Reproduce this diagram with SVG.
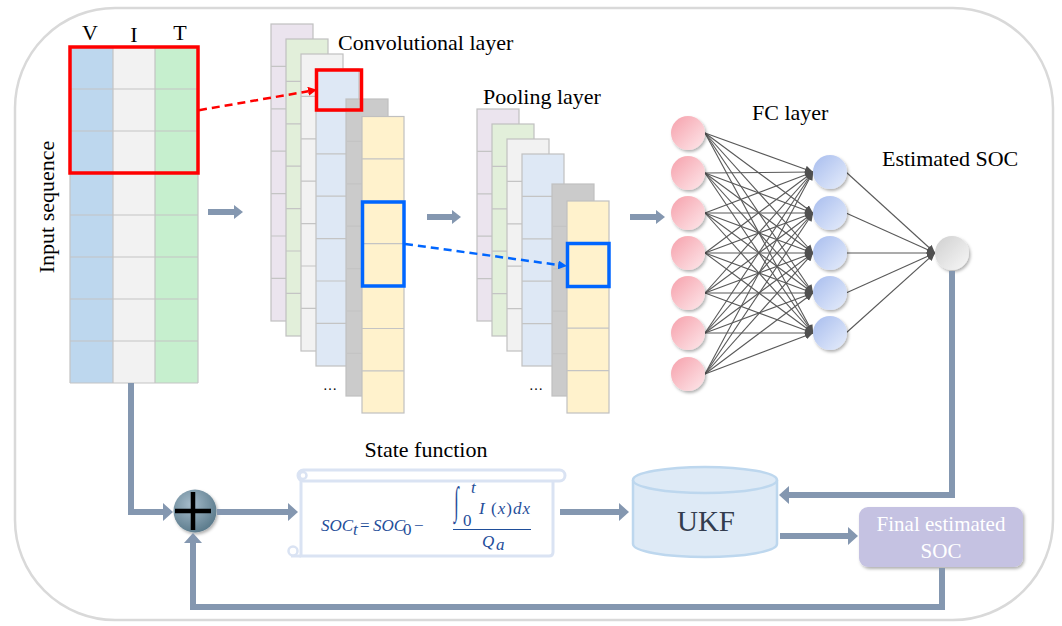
<svg xmlns="http://www.w3.org/2000/svg" width="1062" height="626" viewBox="0 0 1062 626">
<style>
.lbl{font-family:"Liberation Serif","Times New Roman","DejaVu Serif",serif;font-size:22px;fill:#000}
.grid{stroke:#c4c4c4;stroke-width:1.2;fill:none}
.sheet{stroke:#c0c0c0;stroke-width:1.2}
.conn{fill:none;stroke:#8497b0;stroke-width:6}
.fc{stroke:#595959;stroke-width:1.1;fill:none}
.math{font-family:"Liberation Serif","Times New Roman","DejaVu Serif",serif;fill:#1f4e9a;font-style:italic;font-size:17px}
.up{font-style:normal}
.sf{font-family:"Liberation Serif","Times New Roman","DejaVu Serif",serif}
</style>
<defs>
<marker id="ah" viewBox="0 0 10 18" refX="0" refY="9" markerWidth="10" markerHeight="18" markerUnits="userSpaceOnUse" orient="auto"><path d="M0,0 L10,9 L0,18 z" fill="#8497b0"/></marker>
<marker id="ahs" viewBox="0 0 9 14" refX="0" refY="7" markerWidth="9" markerHeight="14" markerUnits="userSpaceOnUse" orient="auto"><path d="M0,0 L9,7 L0,14 z" fill="#8497b0"/></marker>
<marker id="ar" viewBox="0 0 9 9" refX="0" refY="4.5" markerWidth="9" markerHeight="9" markerUnits="userSpaceOnUse" orient="auto"><path d="M0,0 L9,4.5 L0,9 z" fill="#ff0000"/></marker>
<marker id="ab" viewBox="0 0 9 9" refX="0" refY="4.5" markerWidth="9" markerHeight="9" markerUnits="userSpaceOnUse" orient="auto"><path d="M0,0 L9,4.5 L0,9 z" fill="#0066ff"/></marker>
<marker id="af" viewBox="0 0 8 8" refX="8" refY="4" markerWidth="8" markerHeight="8" markerUnits="userSpaceOnUse" orient="auto"><path d="M0,0.3 L8,4 L0,7.7 z" fill="#505050"/></marker>
<linearGradient id="gPink" x1="0" y1="0" x2="1" y2="1"><stop offset="0" stop-color="#f6a0ab"/><stop offset="1" stop-color="#fde8eb"/></linearGradient>
<linearGradient id="gBlue" x1="0" y1="0" x2="1" y2="1"><stop offset="0" stop-color="#a8bdee"/><stop offset="1" stop-color="#e6edfb"/></linearGradient>
<linearGradient id="gGray" x1="0" y1="0" x2="1" y2="1"><stop offset="0" stop-color="#cfcfcf"/><stop offset="1" stop-color="#f8f8f8"/></linearGradient>
<radialGradient id="gSum" cx="0.4" cy="0.35" r="0.7"><stop offset="0" stop-color="#a6bccb"/><stop offset="1" stop-color="#587889"/></radialGradient>
<filter id="sh" x="-30%" y="-30%" width="160%" height="160%"><feDropShadow dx="1.5" dy="2" stdDeviation="1.5" flood-color="#000" flood-opacity="0.3"/></filter>
</defs>

<rect x="15" y="8" width="1038" height="612" rx="100" ry="100" fill="#fff" stroke="#d9d9d9" stroke-width="2.5"/>

<g id="input-sequence">
<rect x="70" y="47" width="43" height="336" fill="#bdd7ee"/>
<rect x="113" y="47" width="42" height="336" fill="#f2f2f2"/>
<rect x="155" y="47" width="43" height="336" fill="#c6efce"/>
<path class="grid" d="M70,47V383M113,47V383M155,47V383M198,47V383M70,89H198M70,131H198M70,173H198M70,215H198M70,257H198M70,299H198M70,341H198M70,383H198"/>
<rect x="70" y="47" width="128" height="126" fill="none" stroke="#ff0000" stroke-width="3.5"/>
<text class="lbl" x="90" y="40" text-anchor="middle">V</text>
<text class="lbl" x="134" y="42" text-anchor="middle">I</text>
<text class="lbl" x="180" y="40" text-anchor="middle">T</text>
<text class="lbl" transform="translate(54,207) rotate(-90)" text-anchor="middle">Input sequence</text>
</g>

<g id="conv-layer">
<rect class="sheet" x="271" y="24" width="42" height="297" fill="#ebe4ee"/>
<path class="grid" d="M271,66.4H313M271,108.8H313M271,151.2H313M271,193.6H313M271,236H313M271,278.4H313"/>
<rect class="sheet" x="286" y="39" width="42" height="297" fill="#e2efda"/>
<path class="grid" d="M286,81.4H328M286,123.8H328M286,166.2H328M286,208.6H328M286,251H328M286,293.4H328"/>
<rect class="sheet" x="301" y="54" width="42" height="297" fill="#f2f2f2"/>
<path class="grid" d="M301,96.4H343M301,138.8H343M301,181.2H343M301,223.6H343M301,266H343M301,308.4H343"/>
<rect class="sheet" x="316" y="69" width="43" height="297" fill="#dee8f5"/>
<path class="grid" d="M316,111.4H359M316,153.8H359M316,196.2H359M316,238.6H359M316,281H359M316,323.4H359"/>
<rect class="sheet" x="346" y="99" width="42" height="297" fill="#cbcbcb"/>
<path class="grid" d="M346,141.4H388M346,183.8H388M346,226.2H388M346,268.6H388M346,311H388M346,353.4H388"/>
<rect class="sheet" x="362" y="116.5" width="42" height="296.5" fill="#fff2cc"/>
<path class="grid" d="M362,158.9H404M362,201.3H404M362,243.7H404M362,286.1H404M362,328.5H404M362,370.9H404"/>
<rect x="316.5" y="70" width="45" height="40" fill="none" stroke="#ff0000" stroke-width="3.5"/>
<rect x="362.5" y="202" width="41.5" height="84" fill="none" stroke="#0066ff" stroke-width="3.5"/>
<text class="sf" x="330" y="390" font-size="14" text-anchor="middle">…</text>
<text class="lbl" x="338" y="50">Convolutional layer</text>
</g>

<g id="pooling-layer">
<rect class="sheet" x="477" y="109" width="42" height="212" fill="#ebe4ee"/>
<path class="grid" d="M477,151.4H519M477,193.8H519M477,236.2H519M477,278.6H519"/>
<rect class="sheet" x="492" y="124" width="42" height="212" fill="#e2efda"/>
<path class="grid" d="M492,166.4H534M492,208.8H534M492,251.2H534M492,293.6H534"/>
<rect class="sheet" x="507" y="139" width="42" height="212" fill="#f2f2f2"/>
<path class="grid" d="M507,181.4H549M507,223.8H549M507,266.2H549M507,308.6H549"/>
<rect class="sheet" x="522" y="154" width="42" height="212" fill="#dee8f5"/>
<path class="grid" d="M522,196.4H564M522,238.8H564M522,281.2H564M522,323.6H564"/>
<rect class="sheet" x="552" y="184" width="42" height="212" fill="#cbcbcb"/>
<path class="grid" d="M552,226.4H594M552,268.8H594M552,311.2H594M552,353.6H594"/>
<rect class="sheet" x="567" y="201" width="42" height="212" fill="#fff2cc"/>
<path class="grid" d="M567,243.4H609M567,285.8H609M567,328.2H609M567,370.6H609"/>
<rect x="567.5" y="243.5" width="41.5" height="43" fill="none" stroke="#0066ff" stroke-width="3.5"/>
<text class="sf" x="536" y="390" font-size="14" text-anchor="middle">…</text>
<text class="lbl" x="483" y="104">Pooling layer</text>
</g>

<g id="fc-layer">
<g class="fc" marker-end="url(#af)">
<line x1="705" y1="133" x2="813" y2="172"/><line x1="705" y1="133" x2="813" y2="213"/><line x1="705" y1="133" x2="813" y2="253"/><line x1="705" y1="133" x2="813" y2="293"/><line x1="705" y1="133" x2="813" y2="333"/>
<line x1="705" y1="173" x2="813" y2="172"/><line x1="705" y1="173" x2="813" y2="213"/><line x1="705" y1="173" x2="813" y2="253"/><line x1="705" y1="173" x2="813" y2="293"/><line x1="705" y1="173" x2="813" y2="333"/>
<line x1="705" y1="213" x2="813" y2="172"/><line x1="705" y1="213" x2="813" y2="213"/><line x1="705" y1="213" x2="813" y2="253"/><line x1="705" y1="213" x2="813" y2="293"/><line x1="705" y1="213" x2="813" y2="333"/>
<line x1="705" y1="253" x2="813" y2="172"/><line x1="705" y1="253" x2="813" y2="213"/><line x1="705" y1="253" x2="813" y2="253"/><line x1="705" y1="253" x2="813" y2="293"/><line x1="705" y1="253" x2="813" y2="333"/>
<line x1="705" y1="293" x2="813" y2="172"/><line x1="705" y1="293" x2="813" y2="213"/><line x1="705" y1="293" x2="813" y2="253"/><line x1="705" y1="293" x2="813" y2="293"/><line x1="705" y1="293" x2="813" y2="333"/>
<line x1="705" y1="333" x2="813" y2="172"/><line x1="705" y1="333" x2="813" y2="213"/><line x1="705" y1="333" x2="813" y2="253"/><line x1="705" y1="333" x2="813" y2="293"/><line x1="705" y1="333" x2="813" y2="333"/>
<line x1="705" y1="374" x2="813" y2="172"/><line x1="705" y1="374" x2="813" y2="213"/><line x1="705" y1="374" x2="813" y2="253"/><line x1="705" y1="374" x2="813" y2="293"/><line x1="705" y1="374" x2="813" y2="333"/>
<line x1="846" y1="172" x2="935" y2="253"/><line x1="846" y1="213" x2="935" y2="253"/><line x1="846" y1="253" x2="935" y2="253"/><line x1="846" y1="293" x2="935" y2="253"/><line x1="846" y1="333" x2="935" y2="253"/>
</g>
<g fill="url(#gPink)" filter="url(#sh)">
<circle cx="688" cy="133" r="17"/><circle cx="688" cy="173" r="17"/><circle cx="688" cy="213" r="17"/><circle cx="688" cy="253" r="17"/><circle cx="688" cy="293" r="17"/><circle cx="688" cy="333" r="17"/><circle cx="688" cy="374" r="17"/>
</g>
<g fill="url(#gBlue)" filter="url(#sh)">
<circle cx="830" cy="172" r="17"/><circle cx="830" cy="213" r="17"/><circle cx="830" cy="253" r="17"/><circle cx="830" cy="293" r="17"/><circle cx="830" cy="333" r="17"/>
</g>
<text class="lbl" x="752" y="120">FC layer</text>
</g>

<g id="estimated-soc">
<circle cx="952" cy="253" r="17" fill="url(#gGray)" filter="url(#sh)"/>
<text class="lbl" x="882" y="166">Estimated SOC</text>
</g>

<g id="sum">
<circle cx="195" cy="511" r="21.5" fill="url(#gSum)" filter="url(#sh)"/>
<path d="M175,511H211M193,492V530" stroke="#000" stroke-width="4.5" fill="none"/>
</g>

<g id="state-function">
<text class="lbl" x="426" y="457" text-anchor="middle">State function</text>
<path d="M301,478V556H549Q553,556 553,552V481" fill="#fff" stroke="#dae3f3" stroke-width="3"/>
<rect x="298" y="470" width="267" height="11" rx="5.5" fill="#fff" stroke="#dae3f3" stroke-width="3"/>
<circle cx="303" cy="475.5" r="3.5" fill="#fff" stroke="#dae3f3" stroke-width="2.5"/>
<path d="M291,556H301" stroke="#dae3f3" stroke-width="3"/>
<circle cx="293" cy="551" r="4.5" fill="#fff" stroke="#dae3f3" stroke-width="2.5"/>
<text class="math" x="321" y="531">SOC</text>
<text class="math" x="353" y="535" font-size="10">t</text>
<text class="math up" x="360" y="531">=</text>
<text class="math" x="373" y="531">SOC</text>
<text class="math up" x="403" y="535" font-size="10">0</text>
<text class="math up" x="414" y="531">−</text>
<text class="math" transform="translate(454,514) scale(1,2.3)" font-size="18">∫</text>
<text class="math" x="471" y="493" font-size="10">t</text>
<text class="math up" x="463" y="526" font-size="10">0</text>
<text class="math" x="479" y="514" textLength="51" lengthAdjust="spacing">I<tspan class="up"> (</tspan>x<tspan class="up">)</tspan>dx</text>
<line x1="453" y1="529.5" x2="531" y2="529.5" stroke="#1f4e9a" stroke-width="1.2"/>
<text class="math" x="482" y="547">Q</text>
<text class="math" x="496" y="550" font-size="10">a</text>
</g>

<g id="ukf">
<path d="M633,480V544A72,13 0 0 0 777,544V480" fill="#deeaf6" stroke="#bdd7ee" stroke-width="2.5"/>
<ellipse cx="705" cy="480" rx="72" ry="13" fill="#deeaf6" stroke="#bdd7ee" stroke-width="2.5"/>
<text class="sf" x="706" y="531" text-anchor="middle" font-size="29" fill="#333c4e">UKF</text>
</g>

<g id="final-soc">
<rect x="859" y="507" width="164" height="60" rx="9" fill="#c5c2e2" filter="url(#sh)"/>
<text class="sf" x="941" y="531" text-anchor="middle" font-size="21" fill="#fff">Final estimated</text>
<text class="sf" x="941" y="558" text-anchor="middle" font-size="21" fill="#fff">SOC</text>
</g>

<g id="connectors">
<path d="M199,110.2L308.1,91.3" stroke="#ff0000" stroke-width="2.5" stroke-dasharray="8,5" fill="none" marker-end="url(#ar)"/>
<path d="M405,244L558.1,264.9" stroke="#0066ff" stroke-width="2.5" stroke-dasharray="8,5" fill="none" marker-end="url(#ab)"/>
<path class="conn" stroke-width="5" d="M208,212H234" marker-end="url(#ahs)"/>
<path class="conn" stroke-width="5" d="M427,217H452" marker-end="url(#ahs)"/>
<path class="conn" stroke-width="5" d="M630,217H656" marker-end="url(#ahs)"/>
<path class="conn" d="M131,383V512H163" marker-end="url(#ah)"/>
<path class="conn" d="M217,512H288" marker-end="url(#ah)"/>
<path class="conn" d="M560,512H619" marker-end="url(#ah)"/>
<path class="conn" d="M780,536H848" marker-end="url(#ah)"/>
<path class="conn" d="M952,271V495H789" marker-end="url(#ah)"/>
<path class="conn" d="M942,568V607H193V543" marker-end="url(#ah)"/>
</g>
</svg>
